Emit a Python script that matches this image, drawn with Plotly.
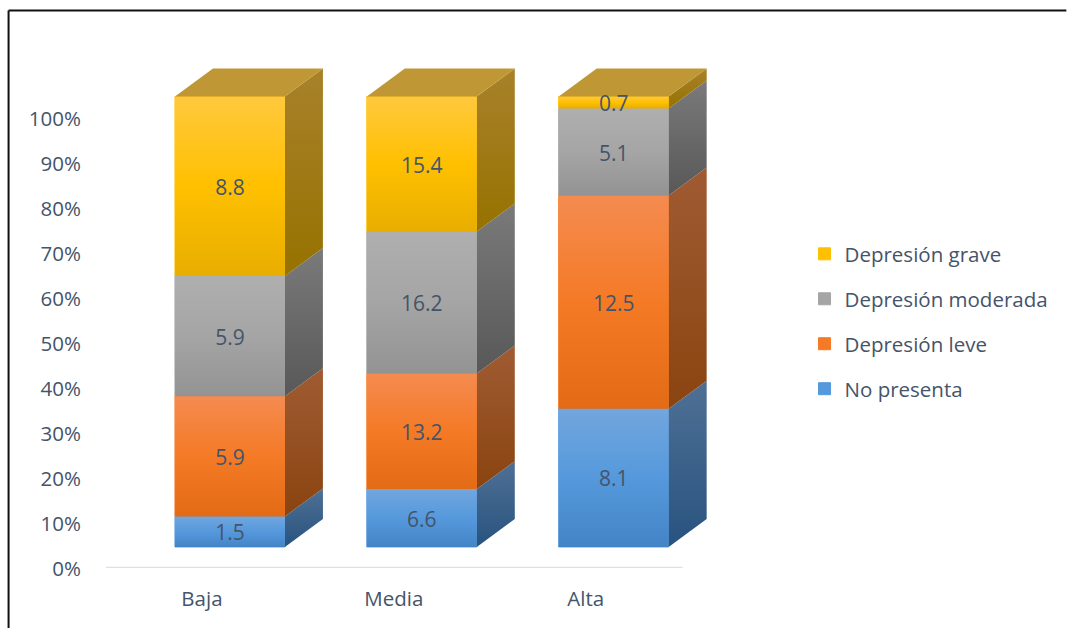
import plotly.graph_objects as go

categories = ["Baja", "Media", "Alta"]
series_names = ["No presenta", "Depresión leve", "Depresión moderada", "Depresión grave"]
no_presenta = [1.5, 6.6, 8.1]
depresion_leve = [5.9, 13.2, 12.5]
depresion_moderada = [5.9, 16.2, 5.1]
depresion_grave = [8.8, 15.4, 0.7]
percent_ticks = list(range(0, 101, 10))

series_values = [no_presenta, depresion_leve, depresion_moderada, depresion_grave]

# Front-face gradient (bottom, middle, top) and side-face gradient (bottom, top) per series
front_colors = [
    ("#4384C6", "#5599DC", "#72A6DE"),
    ("#E46B16", "#F47A26", "#F58B50"),
    ("#939393", "#A5A5A5", "#AFAFAF"),
    ("#E8AE00", "#FFC000", "#FFC93E"),
]
side_colors = [
    ("#28537F", "#4F7095"),
    ("#8A4410", "#A05B33"),
    ("#585858", "#7A7A7A"),
    ("#967200", "#A8812A"),
]
flat_colors = ["#5599DC", "#F47A26", "#A5A5A5", "#FFC000"]
top_color = "#BF9735"
text_color = "#44546A"

# Oblique projection of the 3D columns, in axis units
BAR_WIDTH = 0.573
FRONT_SHIFT_X = 0.146
FRONT_SHIFT_Y = 4.67
DEPTH_X = 0.198
DEPTH_Y = 6.2
LABEL_DROP = 0.75

FONT = "Open Sans"
AXIS_SIZE = 20.5
LABEL_SIZE = 21

fig = go.Figure()


def polygon(xs, ys, gradient=None, color=None):
    kwargs = dict(
        x=xs + xs[:1], y=ys + ys[:1], mode="lines", line=dict(width=0),
        fill="toself", showlegend=False, hoverinfo="skip",
    )
    if gradient:
        n = len(gradient) - 1
        kwargs["fillgradient"] = dict(
            type="vertical",
            colorscale=[[i / n, c] for i, c in enumerate(gradient)],
        )
    else:
        kwargs["fillcolor"] = color
    fig.add_trace(go.Scatter(**kwargs))


n_cat = len(categories)
totals = [sum(s[i] for s in series_values) for i in range(n_cat)]
shares = [[s[i] / totals[i] * 100 for i in range(n_cat)] for s in series_values]
centers = [i + FRONT_SHIFT_X for i in range(n_cat)]

# Stack positions of every segment on the front plane
cumulative = [FRONT_SHIFT_Y] * n_cat
bases = []
for share in shares:
    bases.append(list(cumulative))
    cumulative = [c + v for c, v in zip(cumulative, share)]

# Flat bars carry the legend; added top series first so the legend reads downward
for k in reversed(range(len(series_names))):
    color = flat_colors[k]
    fig.add_trace(go.Bar(
        x=centers, y=shares[k], base=bases[k], width=BAR_WIDTH, name=series_names[k],
        marker=dict(color=color, line=dict(width=1, color=color)),
        legendgroup=series_names[k], hoverinfo="skip",
    ))

# Side and front faces with their shading
for k in range(len(series_names)):
    for i in range(n_cat):
        y0 = bases[k][i]
        y1 = y0 + shares[k][i]
        xl = centers[i] - BAR_WIDTH / 2
        xr = centers[i] + BAR_WIDTH / 2
        polygon([xr, xr + DEPTH_X, xr + DEPTH_X, xr],
                [y0, y0 + DEPTH_Y, y1 + DEPTH_Y, y1], gradient=side_colors[k])
        polygon([xl, xr, xr, xl], [y0, y0, y1, y1], gradient=front_colors[k])

# Lids of the columns
for i in range(n_cat):
    xl = centers[i] - BAR_WIDTH / 2
    xr = centers[i] + BAR_WIDTH / 2
    t = cumulative[i]
    polygon([xl, xr, xr + DEPTH_X, xl + DEPTH_X], [t, t, t + DEPTH_Y, t + DEPTH_Y], color=top_color)

# Value labels, centred on the front faces
label_x, label_y, label_text = [], [], []
for k, values in enumerate(series_values):
    for i in range(n_cat):
        label_x.append(centers[i])
        label_y.append(bases[k][i] + shares[k][i] / 2 - LABEL_DROP)
        label_text.append(f"{values[i]:.1f}")
fig.add_trace(go.Scatter(
    x=label_x, y=label_y, text=label_text, mode="text", textposition="middle center",
    textfont=dict(family=FONT, size=LABEL_SIZE, color=text_color), showlegend=False, hoverinfo="skip",
))

W, H = 1067, 628
L, T, B = 106, 68, 60
X_MIN, X_MAX = -0.5, 2.7
plot_w = 192 * (X_MAX - X_MIN)
R = W - L - plot_w
plot_h = H - T - B

# Frame along the top and left of the page
fig.add_shape(type="line", xref="paper", yref="paper", layer="below",
              x0=(8.5 - L) / plot_w, x1=(W - L) / plot_w,
              y0=1 + (T - 10.5) / plot_h, y1=1 + (T - 10.5) / plot_h,
              line=dict(color="#111111", width=2))
fig.add_shape(type="line", xref="paper", yref="paper", layer="below",
              x0=(8.5 - L) / plot_w, x1=(8.5 - L) / plot_w,
              y0=1 + (T - 10.5) / plot_h, y1=-B / plot_h,
              line=dict(color="#111111", width=2))
# Category axis baseline, ending at the last category band
fig.add_shape(type="line", xref="x", yref="y", layer="below",
              x0=-0.505, x1=2.505, y0=0, y1=0,
              line=dict(color="#DDE1E6", width=2.5))

fig.update_layout(
    width=W, height=H, margin=dict(l=L, r=R, t=T, b=B, autoexpand=False),
    paper_bgcolor="white", plot_bgcolor="rgba(0,0,0,0)", barmode="overlay",
    font=dict(family=FONT, size=AXIS_SIZE, color=text_color), hovermode=False,
    xaxis=dict(
        range=[X_MIN, X_MAX], tickvals=list(range(n_cat)), ticktext=categories,
        showgrid=False, zeroline=False, showline=False,
        ticks="outside", ticklen=12, tickcolor="rgba(0,0,0,0)",
        tickfont=dict(family=FONT, size=AXIS_SIZE, color=text_color),
    ),
    yaxis=dict(
        range=[0, 111], tickvals=percent_ticks, ticktext=[f"{v}%" for v in percent_ticks],
        showgrid=False, zeroline=False, showline=False,
        ticks="outside", ticklen=20, tickcolor="rgba(0,0,0,0)", ticklabelshift=1,
        tickfont=dict(family=FONT, size=AXIS_SIZE, color=text_color),
    ),
    legend=dict(
        x=(805 - L) / plot_w, y=1 - (234 - T) / plot_h, xanchor="left", yanchor="top",
        traceorder="grouped", tracegroupgap=15.3, itemclick=False, itemdoubleclick=False,
        font=dict(family=FONT, size=AXIS_SIZE, color=text_color), bgcolor="rgba(0,0,0,0)",
    ),
)

fig.write_html("out.html", config=dict(displayModeBar=False))
